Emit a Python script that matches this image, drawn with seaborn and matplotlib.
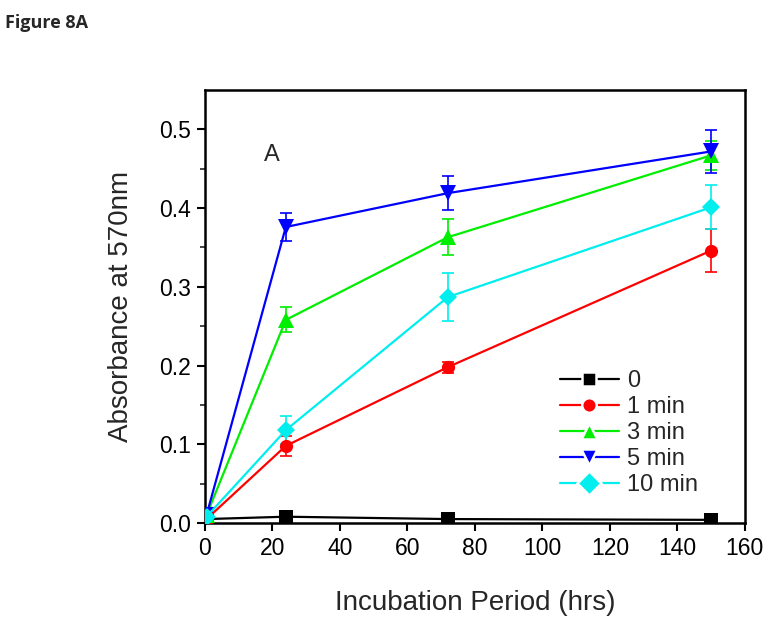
import numpy as np
import pandas as pd
import matplotlib
matplotlib.use("Agg")
import matplotlib.pyplot as plt
import seaborn as sns

# ================================
# DATA
# ================================
hours = [0.5, 24, 72, 150]
series_names = ["0", "1 min", "3 min", "5 min", "10 min"]

abs_0 = [0.005, 0.008, 0.005, 0.004]
abs_1 = [0.005, 0.098, 0.198, 0.346]
abs_3 = [0.010, 0.258, 0.363, 0.467]
abs_5 = [0.010, 0.376, 0.419, 0.472]
abs_10 = [0.008, 0.118, 0.287, 0.401]

err_0 = [0.0, 0.0, 0.0, 0.0]
err_1 = [0.002, 0.013, 0.007, 0.027]
err_3 = [0.003, 0.016, 0.023, 0.018]
err_5 = [0.003, 0.018, 0.022, 0.027]
err_10 = [0.003, 0.018, 0.030, 0.028]

colors = ["black", "#ff0000", "#00ee00", "#0000ff", "#00eeee"]
markers = ["s", "o", "^", "v", "D"]

all_abs = [abs_0, abs_1, abs_3, abs_5, abs_10]
all_err = [err_0, err_1, err_3, err_5, err_10]

rows = []
for name, vals, errs in zip(series_names, all_abs, all_err):
    for h, v, e in zip(hours, vals, errs):
        rows.append({"Hours": h, "Absorbance": v, "Err": e, "Treatment": name})
df = pd.DataFrame(rows)

# ================================
# PLOT
# ================================
sns.set_style("ticks")
plt.rcParams["font.family"] = ["Liberation Sans", "DejaVu Sans"]

fig = plt.figure(figsize=(7.7, 6.23), dpi=100)
ax = fig.add_axes([0.266, 0.1605, 0.7013, 0.695])

# error bars first so the markers sit on top
for name, c in zip(series_names, colors):
    sub = df[df["Treatment"] == name]
    ax.errorbar(sub["Hours"], sub["Absorbance"], yerr=sub["Err"], fmt="none",
                ecolor=c, elinewidth=1.2, capsize=4, capthick=1.2, zorder=2)

sns.lineplot(data=df, x="Hours", y="Absorbance", hue="Treatment", style="Treatment",
             hue_order=series_names, style_order=series_names,
             palette=dict(zip(series_names, colors)),
             markers=dict(zip(series_names, markers)), dashes=False,
             markersize=9.5, markeredgewidth=0, linewidth=1.6, ax=ax, zorder=3)

# triangles look a bit bigger in the original
for ln in ax.lines:
    if ln.get_marker() in ("^", "v"):
        ln.set_markersize(11)

ax.set_xlim(0, 160)
ax.set_ylim(0, 0.55)
ax.set_xticks(np.arange(0, 161, 20))
ax.set_yticks(np.arange(0, 0.51, 0.1))
ax.set_yticks(np.arange(0.05, 0.55, 0.1), minor=True)
ax.set_yticklabels([f"{v:.1f}" for v in np.arange(0, 0.51, 0.1)])
ax.tick_params(axis="both", which="major", direction="out", length=6, width=1.5,
               labelsize=16.5, colors="black", pad=4)
ax.tick_params(axis="y", which="minor", direction="out", length=3.5, width=1.2)
for s in ax.spines.values():
    s.set_linewidth(1.8)
    s.set_color("black")

ax.set_xlabel("Incubation Period (hrs)", fontsize=20, labelpad=22)
ax.set_ylabel("Absorbance at 570nm", fontsize=20, labelpad=18)

ax.text(20, 0.468, "A", fontsize=17, ha="center", va="center")

handles, labels = ax.get_legend_handles_labels()
leg = ax.legend(handles, labels, loc="upper left", bbox_to_anchor=(0.657, 0.353),
                frameon=False, fontsize=17, handlelength=2.5, handletextpad=0.35,
                labelspacing=0.17, borderpad=0, borderaxespad=0)
for h in leg.legend_handles:
    h.set_markeredgecolor("white")
    h.set_markeredgewidth(1.8)
    h.set_markersize(12 if h.get_marker() in ("^", "v", "D") else 10.5)

fig.text(0.007, 0.978, "Figure 8A", fontsize=13, fontweight="bold",
         family=["Open Sans", "DejaVu Sans"], ha="left", va="top")

fig.savefig("out.png", dpi=100)
